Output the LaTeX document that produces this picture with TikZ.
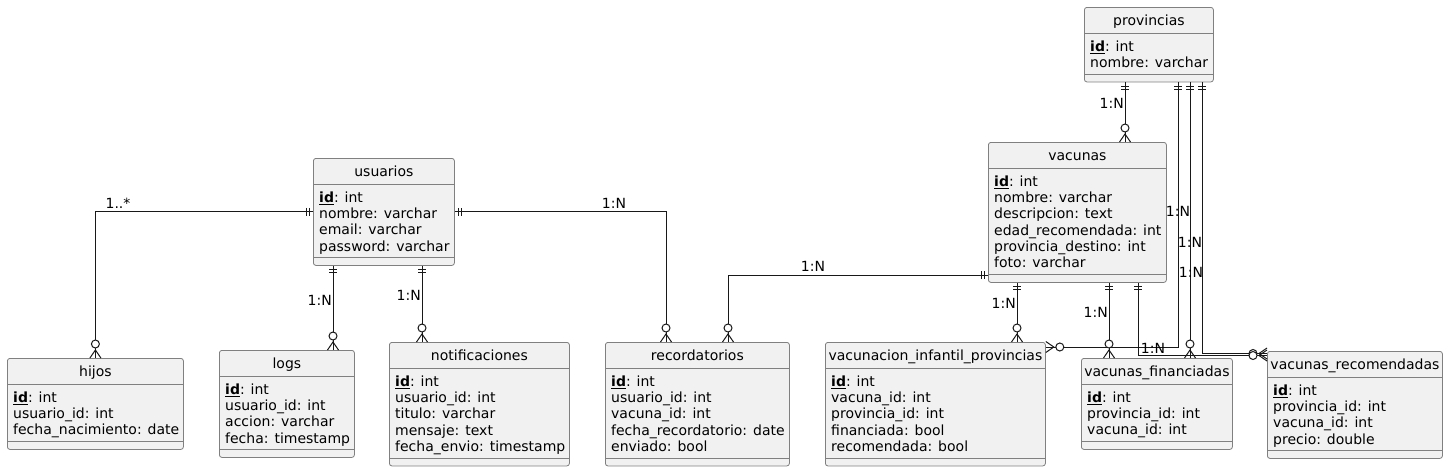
\documentclass[tikz,border=0pt]{standalone}
\usepackage{fontspec}
\setmainfont{DejaVu Sans}
\definecolor{relleno}{HTML}{F1F1F1}
\definecolor{borde}{HTML}{808080}
\definecolor{linea}{HTML}{181818}
\newcommand{\pk}[1]{\underline{\textbf{#1}}}

\begin{document}
\begin{tikzpicture}[x=1pt,y=1pt,
   tabla/.style={draw=borde, fill=relleno, rounded corners=2.5pt, line width=0.8pt, inner sep=0pt, anchor=north west},
   sep/.style={draw=borde, line width=0.8pt},
   titulo/.style={anchor=base, inner sep=0pt, font=\fontsize{14}{16.3}\selectfont},
   campos/.style={anchor=north west, align=left, inner sep=0pt, font=\fontsize{14}{16.3}\selectfont},
   card/.style={inner sep=0pt, font=\fontsize{14}{16.3}\selectfont},
   rel/.style={draw=linea, line width=1pt},
   uno/.pic={\draw[rel] (4,-4) -- (4,4) (7,-4) -- (7,4);},
   muchos/.pic={\draw[rel] (0,-5.5) -- (8,0) -- (0,5.5); \draw[rel, fill=white] (14,0) circle[radius=4pt];}]
   \useasboundingbox (0,0) rectangle (1448,-471);

   \node[tabla, minimum width=129pt, minimum height=74.5pt] (provincias) at (1084,-7) {};
   \draw[sep] ([yshift=-26pt]provincias.north west) -- ([yshift=-26pt]provincias.north east);
   \draw[sep] ([yshift=8pt]provincias.south west) -- ([yshift=8pt]provincias.south east);
   \node[titulo] (t-provincias) at ([yshift=-18pt]provincias.north) {provincias};
   \node[campos] (c-provincias) at ([xshift=6pt,yshift=-33.5pt]provincias.north west) {\pk{id}: int\\nombre: varchar};

   \node[tabla, minimum width=141pt, minimum height=107pt] (usuarios) at (313,-158) {};
   \draw[sep] ([yshift=-26pt]usuarios.north west) -- ([yshift=-26pt]usuarios.north east);
   \draw[sep] ([yshift=8pt]usuarios.south west) -- ([yshift=8pt]usuarios.south east);
   \node[titulo] (t-usuarios) at ([yshift=-18pt]usuarios.north) {usuarios};
   \node[campos] (c-usuarios) at ([xshift=6pt,yshift=-33.5pt]usuarios.north west) {\pk{id}: int\\nombre: varchar\\email: varchar\\password: varchar};

   \node[tabla, minimum width=178pt, minimum height=140pt] (vacunas) at (988,-142) {};
   \draw[sep] ([yshift=-26pt]vacunas.north west) -- ([yshift=-26pt]vacunas.north east);
   \draw[sep] ([yshift=8pt]vacunas.south west) -- ([yshift=8pt]vacunas.south east);
   \node[titulo] (t-vacunas) at ([yshift=-18pt]vacunas.north) {vacunas};
   \node[campos] (c-vacunas) at ([xshift=6pt,yshift=-33.5pt]vacunas.north west) {\pk{id}: int\\nombre: varchar\\descripcion: text\\edad\_recomendada: int\\provincia\_destino: int\\foto: varchar};

   \node[tabla, minimum width=176pt, minimum height=91pt] (hijos) at (7,-358) {};
   \draw[sep] ([yshift=-26pt]hijos.north west) -- ([yshift=-26pt]hijos.north east);
   \draw[sep] ([yshift=8pt]hijos.south west) -- ([yshift=8pt]hijos.south east);
   \node[titulo] (t-hijos) at ([yshift=-18pt]hijos.north) {hijos};
   \node[campos] (c-hijos) at ([xshift=6pt,yshift=-33.5pt]hijos.north west) {\pk{id}: int\\usuario\_id: int\\fecha\_nacimiento: date};

   \node[tabla, minimum width=135pt, minimum height=107pt] (logs) at (219,-350) {};
   \draw[sep] ([yshift=-26pt]logs.north west) -- ([yshift=-26pt]logs.north east);
   \draw[sep] ([yshift=8pt]logs.south west) -- ([yshift=8pt]logs.south east);
   \node[titulo] (t-logs) at ([yshift=-18pt]logs.north) {logs};
   \node[campos] (c-logs) at ([xshift=6pt,yshift=-33.5pt]logs.north west) {\pk{id}: int\\usuario\_id: int\\accion: varchar\\fecha: timestamp};

   \node[tabla, minimum width=180pt, minimum height=123.5pt] (notificaciones) at (389,-342) {};
   \draw[sep] ([yshift=-26pt]notificaciones.north west) -- ([yshift=-26pt]notificaciones.north east);
   \draw[sep] ([yshift=8pt]notificaciones.south west) -- ([yshift=8pt]notificaciones.south east);
   \node[titulo] (t-notificaciones) at ([yshift=-18pt]notificaciones.north) {notificaciones};
   \node[campos] (c-notificaciones) at ([xshift=6pt,yshift=-33.5pt]notificaciones.north west) {\pk{id}: int\\usuario\_id: int\\titulo: varchar\\mensaje: text\\fecha\_envio: timestamp};

   \node[tabla, minimum width=184pt, minimum height=123.5pt] (recordatorios) at (605,-342) {};
   \draw[sep] ([yshift=-26pt]recordatorios.north west) -- ([yshift=-26pt]recordatorios.north east);
   \draw[sep] ([yshift=8pt]recordatorios.south west) -- ([yshift=8pt]recordatorios.south east);
   \node[titulo] (t-recordatorios) at ([yshift=-18pt]recordatorios.north) {recordatorios};
   \node[campos] (c-recordatorios) at ([xshift=6pt,yshift=-33.5pt]recordatorios.north west) {\pk{id}: int\\usuario\_id: int\\vacuna\_id: int\\fecha\_recordatorio: date\\enviado: bool};

   \node[tabla, minimum width=220pt, minimum height=123.5pt] (vinfprov) at (825,-342) {};
   \draw[sep] ([yshift=-26pt]vinfprov.north west) -- ([yshift=-26pt]vinfprov.north east);
   \draw[sep] ([yshift=8pt]vinfprov.south west) -- ([yshift=8pt]vinfprov.south east);
   \node[titulo] (t-vinfprov) at ([yshift=-18pt]vinfprov.north) {vacunacion\_infantil\_provincias};
   \node[campos] (c-vinfprov) at ([xshift=6pt,yshift=-33.5pt]vinfprov.north west) {\pk{id}: int\\vacuna\_id: int\\provincia\_id: int\\financiada: bool\\recomendada: bool};

   \node[tabla, minimum width=151pt, minimum height=91pt] (vacfin) at (1081,-358) {};
   \draw[sep] ([yshift=-26pt]vacfin.north west) -- ([yshift=-26pt]vacfin.north east);
   \draw[sep] ([yshift=8pt]vacfin.south west) -- ([yshift=8pt]vacfin.south east);
   \node[titulo] (t-vacfin) at ([yshift=-18pt]vacfin.north) {vacunas\_financiadas};
   \node[campos] (c-vacfin) at ([xshift=6pt,yshift=-33.5pt]vacfin.north west) {\pk{id}: int\\provincia\_id: int\\vacuna\_id: int};

   \node[tabla, minimum width=175pt, minimum height=107pt] (vacrec) at (1267,-351) {};
   \draw[sep] ([yshift=-26pt]vacrec.north west) -- ([yshift=-26pt]vacrec.north east);
   \draw[sep] ([yshift=8pt]vacrec.south west) -- ([yshift=8pt]vacrec.south east);
   \node[titulo] (t-vacrec) at ([yshift=-18pt]vacrec.north) {vacunas\_recomendadas};
   \node[campos] (c-vacrec) at ([xshift=6pt,yshift=-33.5pt]vacrec.north west) {\pk{id}: int\\provincia\_id: int\\vacuna\_id: int\\precio: double};

   \draw[rel] (usuarios.west) -| (hijos.north);
   \draw[rel] (usuarios.south -| 333,0) -- (logs.north -| 333,0);
   \draw[rel] (usuarios.south -| 422,0) -- (notificaciones.north -| 422,0);
   \draw[rel] (usuarios.east) -| (recordatorios.north -| 666,0);
   \draw[rel] (vacunas.west |- 0,-275) -| (recordatorios.north -| 728,0);
   \draw[rel] (provincias.south -| 1125,0) -- (vacunas.north -| 1125,0);
   \draw[rel] (provincias.south -| 1178,0) |- (vinfprov.east |- 0,-347);
   \draw[rel] (provincias.south -| 1190,0) -- (vacfin.north -| 1190,0);
   \draw[rel] (provincias.south -| 1202,0) |- (vacrec.west |- 0,-353.5);
   \draw[rel] (vacunas.south -| 1017,0) -- (vinfprov.north -| 1017,0);
   \draw[rel] (vacunas.south -| 1109,0) -- (vacfin.north -| 1109,0);
   \draw[rel] (vacunas.south -| 1138,0) |- (vacrec.west |- 0,-355.5);

   \pic[rotate=180] at (usuarios.west) {uno};
   \pic[rotate=90] at (hijos.north) {muchos};
   \pic[rotate=270] at (usuarios.south -| 333,0) {uno};
   \pic[rotate=90] at (logs.north -| 333,0) {muchos};
   \pic[rotate=270] at (usuarios.south -| 422,0) {uno};
   \pic[rotate=90] at (notificaciones.north -| 422,0) {muchos};
   \pic at (usuarios.east) {uno};
   \pic[rotate=90] at (recordatorios.north -| 666,0) {muchos};
   \pic[rotate=180] at (vacunas.west |- 0,-275) {uno};
   \pic[rotate=90] at (recordatorios.north -| 728,0) {muchos};
   \pic[rotate=270] at (provincias.south -| 1125,0) {uno};
   \pic[rotate=90] at (vacunas.north -| 1125,0) {muchos};
   \pic[rotate=270] at (provincias.south -| 1178,0) {uno};
   \pic at (vinfprov.east |- 0,-347) {muchos};
   \pic[rotate=270] at (provincias.south -| 1190,0) {uno};
   \pic[rotate=90] at (vacfin.north -| 1190,0) {muchos};
   \pic[rotate=270] at (provincias.south -| 1202,0) {uno};
   \pic[rotate=180] at (vacrec.west |- 0,-353.5) {muchos};
   \pic[rotate=270] at (vacunas.south -| 1017,0) {uno};
   \pic[rotate=90] at (vinfprov.north -| 1017,0) {muchos};
   \pic[rotate=270] at (vacunas.south -| 1109,0) {uno};
   \pic[rotate=90] at (vacfin.north -| 1109,0) {muchos};
   \pic[rotate=270] at (vacunas.south -| 1138,0) {uno};
   \pic[rotate=180] at (vacrec.west |- 0,-355.5) {muchos};

   \node[card] (l-hijos) at (118,-203) {1..*};
   \node[card, anchor=east] (l-logs) at (332,-300) {1:N};
   \node[card, anchor=east] (l-notif) at (421,-295) {1:N};
   \node[card] (l-recu) at (614,-203) {1:N};
   \node[card] (l-recv) at (813,-266) {1:N};
   \node[card, anchor=east] (l-vac) at (1124,-103) {1:N};
   \node[card] (l-pvip) at (1178,-211) {1:N};
   \node[card] (l-pfin) at (1190,-242) {1:N};
   \node[card] (l-prec) at (1191,-272) {1:N};
   \node[card, anchor=east] (l-vvip) at (1016,-303) {1:N};
   \node[card, anchor=east] (l-vfin) at (1108,-312) {1:N};
   \node[card] (l-vrec) at (1153,-348) {1:N};
\end{tikzpicture}
\end{document}
